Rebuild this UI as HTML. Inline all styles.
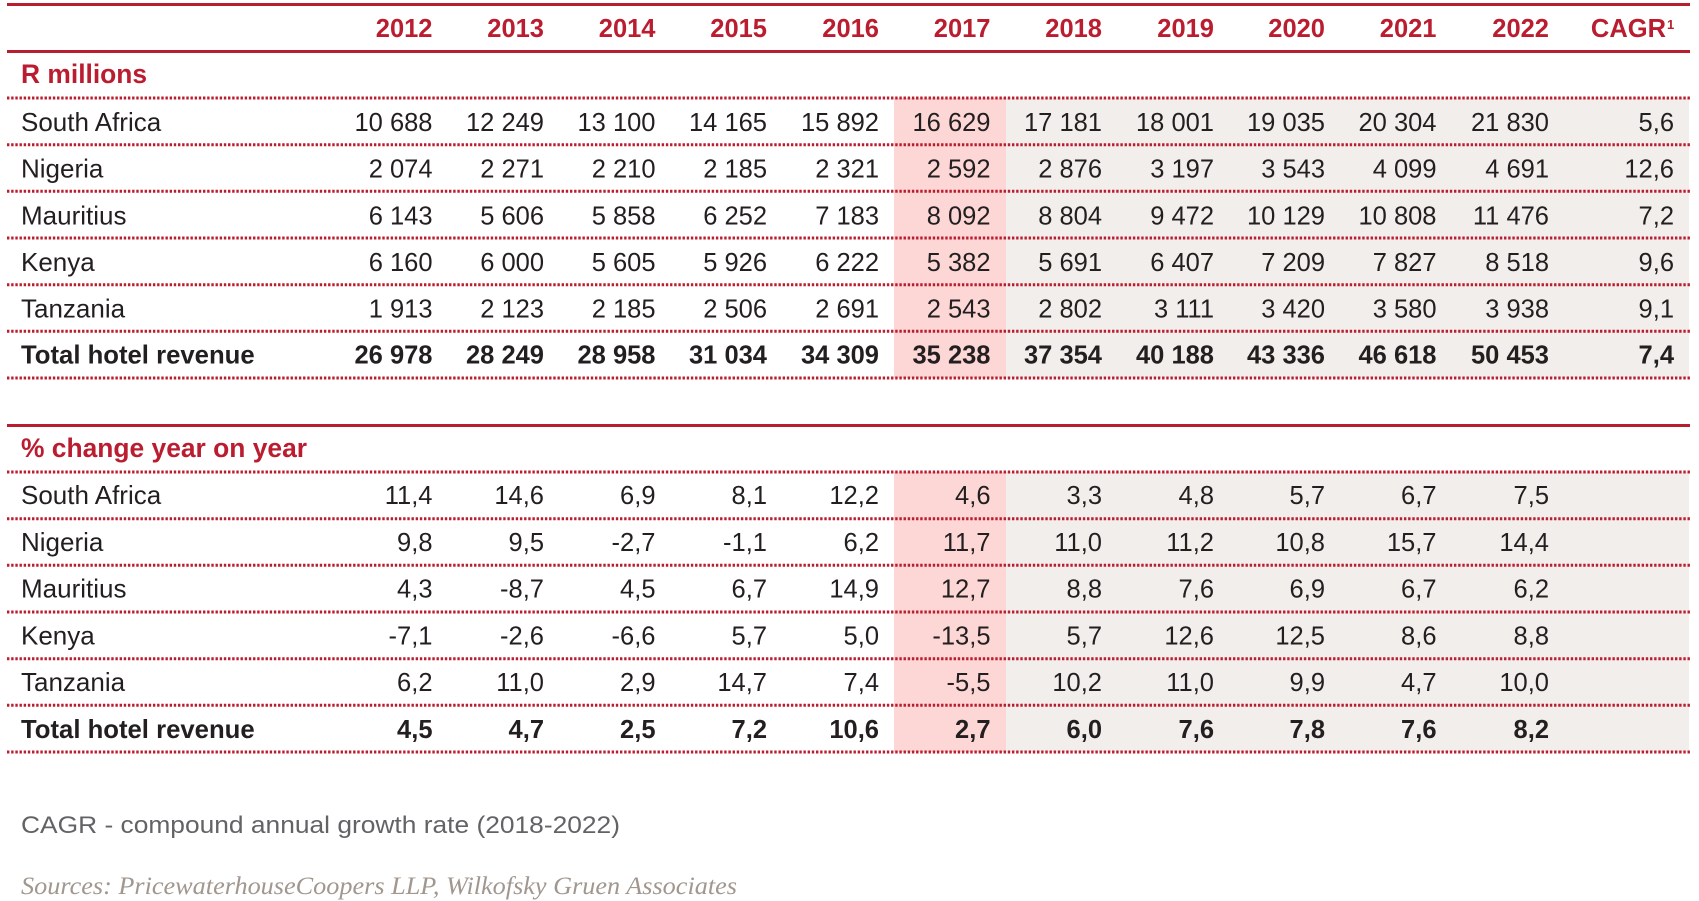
<!DOCTYPE html>
<html>
<head>
<meta charset="utf-8">
<style>
  html,body{margin:0;padding:0;background:#fff;}
  body{width:1699px;height:901px;overflow:hidden;}
  svg{display:block;}
  .y{font-family:"Liberation Sans",Arial,sans-serif;font-weight:bold;font-size:25.5px;fill:#bb1d30;}
  .h{font-family:"Liberation Sans",Arial,sans-serif;font-weight:bold;font-size:26.4px;fill:#bb1d30;}
  .l{font-family:"Liberation Sans",Arial,sans-serif;font-size:26px;fill:#231f20;}
  .b{font-family:"Liberation Sans",Arial,sans-serif;font-weight:bold;font-size:25.7px;fill:#231f20;}
  .n{font-family:"Liberation Sans",Arial,sans-serif;font-size:25.5px;fill:#231f20;text-anchor:end;}
  .nb{font-family:"Liberation Sans",Arial,sans-serif;font-weight:bold;font-size:25.5px;fill:#231f20;text-anchor:end;}
  .dot{stroke:#bb1d30;stroke-width:3;stroke-dasharray:2.4 1.77;fill:none;}
</style>
</head>
<body>
<svg width="1699" height="901" viewBox="0 0 1699 901" xmlns="http://www.w3.org/2000/svg">
  <!-- backgrounds section 1 -->
  <rect x="894" y="98" width="112" height="280" fill="#fcd7d5"/>
  <rect x="1006" y="98" width="683" height="280" fill="#f2eeeb"/>
  <!-- backgrounds section 2 -->
  <rect x="894" y="472" width="112" height="280" fill="#fcd7d5"/>
  <rect x="1006" y="472" width="683" height="280" fill="#f2eeeb"/>

  <!-- solid red rules -->
  <rect x="7" y="3" width="1683" height="3" fill="#bb1d30"/>
  <rect x="7" y="50" width="1683" height="3" fill="#bb1d30"/>
  <rect x="7" y="424" width="1683" height="3" fill="#bb1d30"/>

  <!-- header -->
  <g class="y" text-anchor="end">
    <text x="432.5" y="37">2012</text>
    <text x="544" y="37">2013</text>
    <text x="655.5" y="37">2014</text>
    <text x="767" y="37">2015</text>
    <text x="879" y="37">2016</text>
    <text x="990.5" y="37">2017</text>
    <text x="1102" y="37">2018</text>
    <text x="1214" y="37">2019</text>
    <text x="1325" y="37">2020</text>
    <text x="1436.5" y="37">2021</text>
    <text x="1549" y="37">2022</text>
    <text x="1666" y="37">CAGR</text>
  </g>
  <text x="1667" y="29" style="font-family:'Liberation Sans',Arial,sans-serif;font-weight:bold;font-size:13px;fill:#bb1d30;">1</text>

  <text class="h" x="21" y="83">R millions</text>

  <!-- dotted lines section 1 -->
  <line class="dot" x1="7" y1="98" x2="1690" y2="98"/>
  <line class="dot" x1="7" y1="144.7" x2="1690" y2="144.7"/>
  <line class="dot" x1="7" y1="191.3" x2="1690" y2="191.3"/>
  <line class="dot" x1="7" y1="238" x2="1690" y2="238"/>
  <line class="dot" x1="7" y1="284.7" x2="1690" y2="284.7"/>
  <line class="dot" x1="7" y1="331.3" x2="1690" y2="331.3"/>
  <line class="dot" x1="7" y1="378" x2="1690" y2="378"/>

  <!-- section 1 rows -->
  <g>
    <text class="l" x="21" y="131">South Africa</text>
    <text class="n" x="432.5" y="131">10 688</text>
    <text class="n" x="544" y="131">12 249</text>
    <text class="n" x="655.5" y="131">13 100</text>
    <text class="n" x="767" y="131">14 165</text>
    <text class="n" x="879" y="131">15 892</text>
    <text class="n" x="990.5" y="131">16 629</text>
    <text class="n" x="1102" y="131">17 181</text>
    <text class="n" x="1214" y="131">18 001</text>
    <text class="n" x="1325" y="131">19 035</text>
    <text class="n" x="1436.5" y="131">20 304</text>
    <text class="n" x="1549" y="131">21 830</text>
    <text class="n" x="1674" y="131">5,6</text>
  </g>
  <g>
    <text class="l" x="21" y="177.7">Nigeria</text>
    <text class="n" x="432.5" y="177.7">2 074</text>
    <text class="n" x="544" y="177.7">2 271</text>
    <text class="n" x="655.5" y="177.7">2 210</text>
    <text class="n" x="767" y="177.7">2 185</text>
    <text class="n" x="879" y="177.7">2 321</text>
    <text class="n" x="990.5" y="177.7">2 592</text>
    <text class="n" x="1102" y="177.7">2 876</text>
    <text class="n" x="1214" y="177.7">3 197</text>
    <text class="n" x="1325" y="177.7">3 543</text>
    <text class="n" x="1436.5" y="177.7">4 099</text>
    <text class="n" x="1549" y="177.7">4 691</text>
    <text class="n" x="1674" y="177.7">12,6</text>
  </g>
  <g>
    <text class="l" x="21" y="224.3">Mauritius</text>
    <text class="n" x="432.5" y="224.3">6 143</text>
    <text class="n" x="544" y="224.3">5 606</text>
    <text class="n" x="655.5" y="224.3">5 858</text>
    <text class="n" x="767" y="224.3">6 252</text>
    <text class="n" x="879" y="224.3">7 183</text>
    <text class="n" x="990.5" y="224.3">8 092</text>
    <text class="n" x="1102" y="224.3">8 804</text>
    <text class="n" x="1214" y="224.3">9 472</text>
    <text class="n" x="1325" y="224.3">10 129</text>
    <text class="n" x="1436.5" y="224.3">10 808</text>
    <text class="n" x="1549" y="224.3">11 476</text>
    <text class="n" x="1674" y="224.3">7,2</text>
  </g>
  <g>
    <text class="l" x="21" y="271">Kenya</text>
    <text class="n" x="432.5" y="271">6 160</text>
    <text class="n" x="544" y="271">6 000</text>
    <text class="n" x="655.5" y="271">5 605</text>
    <text class="n" x="767" y="271">5 926</text>
    <text class="n" x="879" y="271">6 222</text>
    <text class="n" x="990.5" y="271">5 382</text>
    <text class="n" x="1102" y="271">5 691</text>
    <text class="n" x="1214" y="271">6 407</text>
    <text class="n" x="1325" y="271">7 209</text>
    <text class="n" x="1436.5" y="271">7 827</text>
    <text class="n" x="1549" y="271">8 518</text>
    <text class="n" x="1674" y="271">9,6</text>
  </g>
  <g>
    <text class="l" x="21" y="317.5">Tanzania</text>
    <text class="n" x="432.5" y="317.5">1 913</text>
    <text class="n" x="544" y="317.5">2 123</text>
    <text class="n" x="655.5" y="317.5">2 185</text>
    <text class="n" x="767" y="317.5">2 506</text>
    <text class="n" x="879" y="317.5">2 691</text>
    <text class="n" x="990.5" y="317.5">2 543</text>
    <text class="n" x="1102" y="317.5">2 802</text>
    <text class="n" x="1214" y="317.5">3 111</text>
    <text class="n" x="1325" y="317.5">3 420</text>
    <text class="n" x="1436.5" y="317.5">3 580</text>
    <text class="n" x="1549" y="317.5">3 938</text>
    <text class="n" x="1674" y="317.5">9,1</text>
  </g>
  <g>
    <text class="b" x="21" y="363.5">Total hotel revenue</text>
    <text class="nb" x="432.5" y="363.5">26 978</text>
    <text class="nb" x="544" y="363.5">28 249</text>
    <text class="nb" x="655.5" y="363.5">28 958</text>
    <text class="nb" x="767" y="363.5">31 034</text>
    <text class="nb" x="879" y="363.5">34 309</text>
    <text class="nb" x="990.5" y="363.5">35 238</text>
    <text class="nb" x="1102" y="363.5">37 354</text>
    <text class="nb" x="1214" y="363.5">40 188</text>
    <text class="nb" x="1325" y="363.5">43 336</text>
    <text class="nb" x="1436.5" y="363.5">46 618</text>
    <text class="nb" x="1549" y="363.5">50 453</text>
    <text class="nb" x="1674" y="363.5">7,4</text>
  </g>

  <!-- section 2 -->
  <text class="h" x="21" y="457">% change year on year</text>

  <line class="dot" x1="7" y1="472" x2="1690" y2="472"/>
  <line class="dot" x1="7" y1="518.7" x2="1690" y2="518.7"/>
  <line class="dot" x1="7" y1="565.3" x2="1690" y2="565.3"/>
  <line class="dot" x1="7" y1="612" x2="1690" y2="612"/>
  <line class="dot" x1="7" y1="658.7" x2="1690" y2="658.7"/>
  <line class="dot" x1="7" y1="705.3" x2="1690" y2="705.3"/>
  <line class="dot" x1="7" y1="752" x2="1690" y2="752"/>

  <g>
    <text class="l" x="21" y="504">South Africa</text>
    <text class="n" x="432.5" y="504">11,4</text>
    <text class="n" x="544" y="504">14,6</text>
    <text class="n" x="655.5" y="504">6,9</text>
    <text class="n" x="767" y="504">8,1</text>
    <text class="n" x="879" y="504">12,2</text>
    <text class="n" x="990.5" y="504">4,6</text>
    <text class="n" x="1102" y="504">3,3</text>
    <text class="n" x="1214" y="504">4,8</text>
    <text class="n" x="1325" y="504">5,7</text>
    <text class="n" x="1436.5" y="504">6,7</text>
    <text class="n" x="1549" y="504">7,5</text>
  </g>
  <g>
    <text class="l" x="21" y="551">Nigeria</text>
    <text class="n" x="432.5" y="551">9,8</text>
    <text class="n" x="544" y="551">9,5</text>
    <text class="n" x="655.5" y="551">-2,7</text>
    <text class="n" x="767" y="551">-1,1</text>
    <text class="n" x="879" y="551">6,2</text>
    <text class="n" x="990.5" y="551">11,7</text>
    <text class="n" x="1102" y="551">11,0</text>
    <text class="n" x="1214" y="551">11,2</text>
    <text class="n" x="1325" y="551">10,8</text>
    <text class="n" x="1436.5" y="551">15,7</text>
    <text class="n" x="1549" y="551">14,4</text>
  </g>
  <g>
    <text class="l" x="21" y="597.7">Mauritius</text>
    <text class="n" x="432.5" y="597.7">4,3</text>
    <text class="n" x="544" y="597.7">-8,7</text>
    <text class="n" x="655.5" y="597.7">4,5</text>
    <text class="n" x="767" y="597.7">6,7</text>
    <text class="n" x="879" y="597.7">14,9</text>
    <text class="n" x="990.5" y="597.7">12,7</text>
    <text class="n" x="1102" y="597.7">8,8</text>
    <text class="n" x="1214" y="597.7">7,6</text>
    <text class="n" x="1325" y="597.7">6,9</text>
    <text class="n" x="1436.5" y="597.7">6,7</text>
    <text class="n" x="1549" y="597.7">6,2</text>
  </g>
  <g>
    <text class="l" x="21" y="644.3">Kenya</text>
    <text class="n" x="432.5" y="644.3">-7,1</text>
    <text class="n" x="544" y="644.3">-2,6</text>
    <text class="n" x="655.5" y="644.3">-6,6</text>
    <text class="n" x="767" y="644.3">5,7</text>
    <text class="n" x="879" y="644.3">5,0</text>
    <text class="n" x="990.5" y="644.3">-13,5</text>
    <text class="n" x="1102" y="644.3">5,7</text>
    <text class="n" x="1214" y="644.3">12,6</text>
    <text class="n" x="1325" y="644.3">12,5</text>
    <text class="n" x="1436.5" y="644.3">8,6</text>
    <text class="n" x="1549" y="644.3">8,8</text>
  </g>
  <g>
    <text class="l" x="21" y="691">Tanzania</text>
    <text class="n" x="432.5" y="691">6,2</text>
    <text class="n" x="544" y="691">11,0</text>
    <text class="n" x="655.5" y="691">2,9</text>
    <text class="n" x="767" y="691">14,7</text>
    <text class="n" x="879" y="691">7,4</text>
    <text class="n" x="990.5" y="691">-5,5</text>
    <text class="n" x="1102" y="691">10,2</text>
    <text class="n" x="1214" y="691">11,0</text>
    <text class="n" x="1325" y="691">9,9</text>
    <text class="n" x="1436.5" y="691">4,7</text>
    <text class="n" x="1549" y="691">10,0</text>
  </g>
  <g>
    <text class="b" x="21" y="738">Total hotel revenue</text>
    <text class="nb" x="432.5" y="738">4,5</text>
    <text class="nb" x="544" y="738">4,7</text>
    <text class="nb" x="655.5" y="738">2,5</text>
    <text class="nb" x="767" y="738">7,2</text>
    <text class="nb" x="879" y="738">10,6</text>
    <text class="nb" x="990.5" y="738">2,7</text>
    <text class="nb" x="1102" y="738">6,0</text>
    <text class="nb" x="1214" y="738">7,6</text>
    <text class="nb" x="1325" y="738">7,8</text>
    <text class="nb" x="1436.5" y="738">7,6</text>
    <text class="nb" x="1549" y="738">8,2</text>
  </g>

  <!-- footnotes -->
  <text x="21" y="833" textLength="599" lengthAdjust="spacingAndGlyphs" style="font-family:'Liberation Sans',Arial,sans-serif;font-size:24.5px;fill:#626365;">CAGR - compound annual growth rate (2018-2022)</text>
  <text x="21" y="894" textLength="716" lengthAdjust="spacingAndGlyphs" style="font-family:'Liberation Serif','Times New Roman',serif;font-style:italic;font-size:25px;fill:#a1978f;">Sources: PricewaterhouseCoopers LLP, Wilkofsky Gruen Associates</text>
</svg>
</body>
</html>
